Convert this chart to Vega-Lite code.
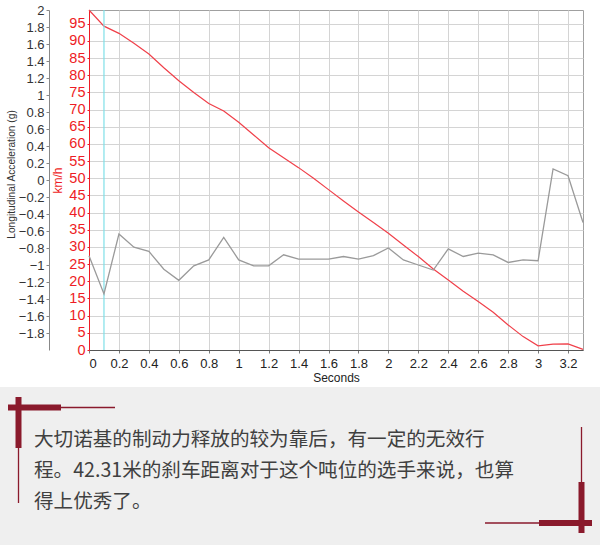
{
  "$schema": "https://vega.github.io/schema/vega-lite/v6.json",
  "padding": {"left": 0, "top": 3, "right": 0, "bottom": 0},
  "background": "white",
  "columns": 1,
  "spacing": 3,
  "concat": [
    {
      "width": 494,
      "height": 340,
      "data": {
        "values": [
          {"t": 0.0, "accel": -0.89, "speed": 99},
          {"t": 0.1, "accel": -1.34, "speed": 94.3},
          {"t": 0.2, "accel": -0.635, "speed": 92.2},
          {"t": 0.3, "accel": -0.79, "speed": 89.3},
          {"t": 0.4, "accel": -0.84, "speed": 86.2},
          {"t": 0.5, "accel": -1.05, "speed": 82.2},
          {"t": 0.6, "accel": -1.18, "speed": 78.4},
          {"t": 0.7, "accel": -1.01, "speed": 75.0},
          {"t": 0.8, "accel": -0.94, "speed": 71.8},
          {"t": 0.9, "accel": -0.675, "speed": 69.6},
          {"t": 1.0, "accel": -0.94, "speed": 66.3},
          {"t": 1.1, "accel": -1.01, "speed": 62.6},
          {"t": 1.2, "accel": -1.01, "speed": 58.9},
          {"t": 1.3, "accel": -0.88, "speed": 56.0},
          {"t": 1.4, "accel": -0.93, "speed": 53.1},
          {"t": 1.5, "accel": -0.93, "speed": 50.0},
          {"t": 1.6, "accel": -0.93, "speed": 46.7},
          {"t": 1.7, "accel": -0.90, "speed": 43.4},
          {"t": 1.8, "accel": -0.93, "speed": 40.2},
          {"t": 1.9, "accel": -0.89, "speed": 37.1},
          {"t": 2.0, "accel": -0.80, "speed": 34.0},
          {"t": 2.1, "accel": -0.94, "speed": 30.6},
          {"t": 2.2, "accel": -1.0, "speed": 27.2},
          {"t": 2.3, "accel": -1.06, "speed": 23.6},
          {"t": 2.4, "accel": -0.81, "speed": 20.4},
          {"t": 2.5, "accel": -0.90, "speed": 17.1},
          {"t": 2.6, "accel": -0.86, "speed": 14.1},
          {"t": 2.7, "accel": -0.88, "speed": 11.0},
          {"t": 2.8, "accel": -0.97, "speed": 7.3},
          {"t": 2.9, "accel": -0.94, "speed": 3.9},
          {"t": 3.0, "accel": -0.95, "speed": 1.2},
          {"t": 3.1, "accel": 0.13, "speed": 1.7},
          {"t": 3.2, "accel": 0.05, "speed": 1.8},
          {"t": 3.3, "accel": -0.50, "speed": 0.2}
        ]
      },
      "encoding": {
        "x": {
          "field": "t",
          "type": "quantitative",
          "scale": {"domain": [0, 3.3], "nice": false, "zero": false},
          "axis": {
            "title": "Seconds",
            "values": [0, 0.2, 0.4, 0.6, 0.8, 1, 1.2, 1.4, 1.6, 1.8, 2, 2.2, 2.4, 2.6, 2.8, 3, 3.2],
            "format": "~g",
            "labelOverlap": false,
            "labelBound": false,
            "labelSeparation": 0,
            "grid": true,
            "gridColor": "#d4d4d4",
            "domainColor": "#555555",
            "tickColor": "#777777",
            "tickSize": 3,
            "labelPadding": 4,
            "labelColor": "#222222",
            "labelFontSize": 13,
            "titleFontSize": 12,
            "titleFontWeight": "normal",
            "titleColor": "#222222",
            "titlePadding": 2
          }
        }
      },
      "layer": [
        {
          "mark": {"type": "line", "color": "#f0404a", "strokeWidth": 1.2},
          "encoding": {
            "y": {
              "field": "speed",
              "type": "quantitative",
              "scale": {"domain": [0, 99], "nice": false},
              "axis": {
                "orient": "left",
                "title": "km/h",
                "values": [0, 5, 10, 15, 20, 25, 30, 35, 40, 45, 50, 55, 60, 65, 70, 75, 80, 85, 90, 95],
                "labelOverlap": false,
                "grid": true,
                "gridColor": "#d4d4d4",
                "domainColor": "#ee1c25",
                "tickColor": "#ee1c25",
                "tickSize": 2,
                "labelPadding": 2,
                "labelColor": "#ee1c25",
                "labelFontSize": 14.5,
                "titleColor": "#ee1c25",
                "titleFontSize": 12,
                "titleFontWeight": "normal",
                "titlePadding": 4
              }
            }
          }
        },
        {
          "transform": [{"filter": "datum.t == 0.1"}],
          "mark": {"type": "rule", "color": "#7fe0e8", "strokeWidth": 1.2},
          "encoding": {}
        },
        {
          "mark": {"type": "line", "color": "#9a9a9a", "strokeWidth": 1.3},
          "encoding": {
            "y": {
              "field": "accel",
              "type": "quantitative",
              "scale": {"domain": [-2, 2], "nice": false},
              "axis": {
                "orient": "left",
                "offset": 40,
                "title": "Longitudinal Acceleration (g)",
                "titleY": 164,
                "values": [-1.8, -1.6, -1.4, -1.2, -1, -0.8, -0.6, -0.4, -0.2, 0, 0.2, 0.4, 0.6, 0.8, 1, 1.2, 1.4, 1.6, 1.8, 2],
                "format": "~g",
                "labelOverlap": false,
                "grid": false,
                "domainColor": "#888888",
                "tickColor": "#888888",
                "tickSize": 3,
                "labelPadding": 2,
                "labelColor": "#333333",
                "labelFontSize": 13,
                "titleColor": "#333333",
                "titleFontSize": 10.2,
                "titleFontWeight": "normal",
                "titlePadding": 2
              }
            }
          }
        }
      ],
      "resolve": {"scale": {"y": "independent"}, "axis": {"y": "independent"}}
    },
    {
      "width": 511,
      "height": 158,
      "view": {"stroke": null},
      "data": {"values": [{"box": "caption"}]},
      "layer": [
        {
          "mark": {"type": "rect", "color": "#efefef"},
          "encoding": {
            "x": {"datum": 0, "type": "quantitative", "scale": {"domain": [89, 600], "nice": false, "zero": false}, "axis": null},
            "x2": {"datum": 600},
            "y": {"datum": 0, "type": "quantitative", "scale": {"domain": [0, 158], "nice": false, "zero": false, "reverse": true}, "axis": null},
            "y2": {"datum": 158}
          }
        },
        {
          "mark": {
            "type": "text",
            "align": "left",
            "baseline": "middle",
            "font": "Noto Sans CJK SC",
            "fontSize": 19.6,
            "lineHeight": 31,
            "color": "#404040",
            "text": [
              "大切诺基的制动力释放的较为靠后，有一定的无效行",
              "程。42.31米的刹车距离对于这个吨位的选手来说，也算",
              "得上优秀了。"
            ]
          },
          "encoding": {"x": {"datum": 34, "type": "quantitative"}, "y": {"datum": 53, "type": "quantitative"}}
        },
        {
          "mark": {"type": "rule", "color": "#8a1a2c", "strokeWidth": 1.3},
          "encoding": {"x": {"datum": 18.5, "type": "quantitative"}, "y": {"datum": 60, "type": "quantitative"}, "y2": {"datum": 116}}
        },
        {
          "mark": {"type": "rule", "color": "#8a1a2c", "strokeWidth": 6},
          "encoding": {"x": {"datum": 18.5, "type": "quantitative"}, "y": {"datum": 10, "type": "quantitative"}, "y2": {"datum": 61}}
        },
        {
          "mark": {"type": "rule", "color": "#8a1a2c", "strokeWidth": 1.3},
          "encoding": {"x": {"datum": 60, "type": "quantitative"}, "x2": {"datum": 115}, "y": {"datum": 20.5, "type": "quantitative"}}
        },
        {
          "mark": {"type": "rule", "color": "#8a1a2c", "strokeWidth": 6},
          "encoding": {"x": {"datum": 8, "type": "quantitative"}, "x2": {"datum": 61}, "y": {"datum": 20.5, "type": "quantitative"}}
        },
        {
          "mark": {"type": "rule", "color": "#8a1a2c", "strokeWidth": 1.3},
          "encoding": {"x": {"datum": 581.5, "type": "quantitative"}, "y": {"datum": 40, "type": "quantitative"}, "y2": {"datum": 96}}
        },
        {
          "mark": {"type": "rule", "color": "#8a1a2c", "strokeWidth": 6},
          "encoding": {"x": {"datum": 581.5, "type": "quantitative"}, "y": {"datum": 95, "type": "quantitative"}, "y2": {"datum": 146}}
        },
        {
          "mark": {"type": "rule", "color": "#8a1a2c", "strokeWidth": 1.3},
          "encoding": {"x": {"datum": 485, "type": "quantitative"}, "x2": {"datum": 540}, "y": {"datum": 136, "type": "quantitative"}}
        },
        {
          "mark": {"type": "rule", "color": "#8a1a2c", "strokeWidth": 6},
          "encoding": {"x": {"datum": 539, "type": "quantitative"}, "x2": {"datum": 592}, "y": {"datum": 136, "type": "quantitative"}}
        }
      ]
    }
  ],
  "config": {
    "font": "Liberation Sans",
    "axis": {"labelFont": "Liberation Sans", "titleFont": "Liberation Sans"},
    "view": {"stroke": "#a0a0a0"}
  }
}
